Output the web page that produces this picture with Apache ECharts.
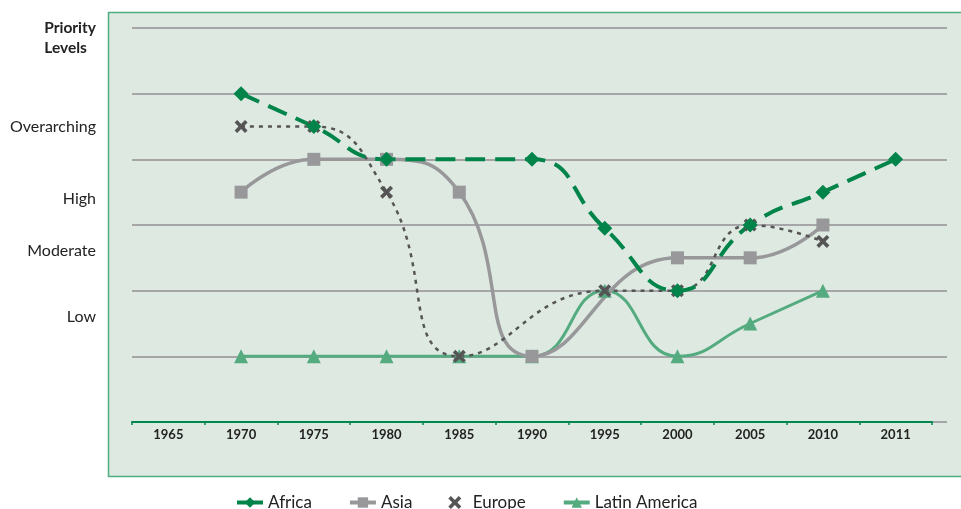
<!DOCTYPE html>
<html>
<head>
<meta charset="utf-8">
<script src="https://cdn.jsdelivr.net/npm/echarts@6/dist/echarts.min.js"></script>
<style>
  html, body { margin: 0; padding: 0; background: #fff; }
  #main { width: 961px; height: 509px; }
</style>
</head>
<body>
<div id="main"></div>
<script>
// data (levels: 1 = bottom gridline ... 6 = top)
const years = ['1965', '1970', '1975', '1980', '1985', '1990', '1995', '2000', '2005', '2010', '2011'];
const africa = [null, 5, 4.5, 4, null, 4, 2.95, 2, 3, 3.5, 4];
const asia = [null, 3.5, 4, 4, 3.5, 1, null, 2.5, 2.5, 3, null];
const europe = [null, 4.5, 4.5, 3.5, 1, null, 2, 2, 3, 2.75, null];
const latinAmerica = [null, 1, 1, 1, 1, 1, 2, 1, 1.5, 2, null];
const levelLabels = { 16: 'Low', 26: 'Moderate', 34: 'High', 45: 'Overarching' };

const font = 'Lato, "Liberation Sans", sans-serif';
const crossPath = 'path://M2,0L5,3L8,0L10,2L7,5L10,8L8,10L5,7L2,10L0,8L3,5L0,2Z';

var myChart = echarts.init(document.getElementById('main'));

const option = {
  animation: false,
  textStyle: { fontFamily: font },
  graphic: [
    {
      type: 'rect', z: -10, silent: true,
      shape: { x: 108.5, y: 12.5, width: 860, height: 464 },
      style: { fill: '#dde9e1', stroke: '#4fae80', lineWidth: 1.5 }
    },
    {
      type: 'text', right: 865, top: 18,
      style: {
        text: 'Priority\nLevels', fill: '#222', font: 'bold 15.5px ' + font,
        align: 'right', lineHeight: 20
      }
    }
  ],
  legend: {
    bottom: -7,
    left: 230,
    itemWidth: 26,
    itemHeight: 13,
    itemGap: 36,
    lineStyle: { type: 'solid', width: 4 },
    textStyle: { fontSize: 17, color: '#222', fontFamily: font },
    data: [
      { name: 'Africa' },
      { name: 'Asia' },
      { name: 'Europe', icon: crossPath, itemStyle: { color: '#555' } },
      { name: 'Latin America' }
    ]
  },
  grid: [
    { left: 132, right: 29, top: 28, bottom: 87 },
    { left: 132, right: 14, top: 28, bottom: 87 }
  ],
  xAxis: [
    {
      type: 'category', gridIndex: 0, data: years, boundaryGap: true, z: 5,
      axisLine: { lineStyle: { color: '#00874f', width: 2 } },
      axisTick: { show: true, length: 3, lineStyle: { color: '#00874f', width: 1.5 } },
      axisLabel: { color: '#222', fontWeight: 'bold', fontSize: 13, margin: 6 }
    },
    { type: 'value', gridIndex: 1, show: false }
  ],
  yAxis: [
    {
      type: 'value', gridIndex: 0, min: 0, max: 6, interval: 0.1,
      axisLine: { show: false }, axisTick: { show: false }, splitLine: { show: false },
      axisLabel: {
        color: '#222', fontSize: 16, margin: 36,
        formatter: function (v) { return levelLabels[Math.round(v * 10)] || ''; }
      }
    },
    {
      type: 'value', gridIndex: 1, min: 0, max: 6, interval: 1,
      axisLine: { show: false }, axisTick: { show: false }, axisLabel: { show: false },
      splitLine: { lineStyle: { color: '#a6a6a9', width: 2 } }
    }
  ],
  series: [
    {
      name: 'Latin America', type: 'line', data: latinAmerica, smooth: true, connectNulls: true,
      symbol: 'triangle', symbolSize: 14, color: '#55ab80',
      lineStyle: { width: 3, color: '#55ab80' }, itemStyle: { color: '#55ab80' }
    },
    {
      name: 'Asia', type: 'line', data: asia, smooth: true, connectNulls: true,
      symbol: 'rect', symbolSize: 13, color: '#98989b',
      lineStyle: { width: 3.5, color: '#98989b' }, itemStyle: { color: '#98989b' }
    },
    {
      name: 'Europe', type: 'line', data: europe, smooth: true, connectNulls: true,
      symbol: crossPath, symbolSize: 13, color: '#555',
      lineStyle: { width: 2.5, color: '#555', type: [4, 5] }, itemStyle: { color: '#555' }
    },
    {
      name: 'Africa', type: 'line', data: africa, smooth: true, connectNulls: true,
      symbol: 'diamond', symbolSize: 15, color: '#00844a',
      lineStyle: { width: 4, color: '#00844a', type: [20, 10] }, itemStyle: { color: '#00844a' }
    }
  ]
};

myChart.setOption(option);
</script>
</body>
</html>
